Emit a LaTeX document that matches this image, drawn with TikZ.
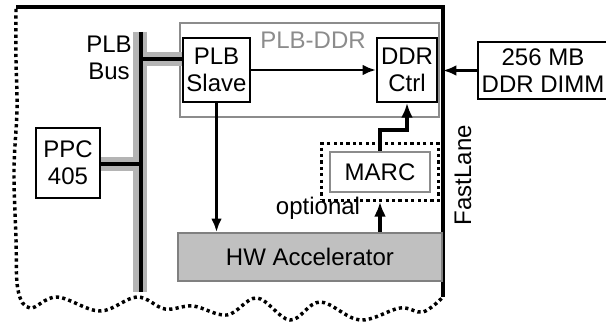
\documentclass[tikz,border=0pt]{standalone}
\usepackage{fontspec}
\setmainfont{Liberation Sans}
\usetikzlibrary{arrows.meta,positioning,fit}
\definecolor{flGrey}{HTML}{8C8C8C}
\definecolor{flBus}{HTML}{B4B4B4}
\definecolor{flAcc}{HTML}{C0C0C0}
\definecolor{flAccLine}{HTML}{808080}

\begin{document}
\begin{tikzpicture}[x=0.75pt,y=-0.75pt,font=\fontsize{18}{20}\selectfont,
    blk/.style={draw,line width=1.6pt,fill=white,align=center,inner sep=0pt},
    arr/.style={-{Latex[length=10pt,width=8pt]},line width=1.9pt},
    fatarr/.style={-{Latex[length=11pt,width=9pt]},line width=3.2pt},
    busgrey/.style={flBus,line width=10.5pt},
    busline/.style={black,line width=2.8pt},
    edge/.style={line width=2.6pt,dash pattern=on 2.4pt off 2.4pt}]

  \useasboundingbox (0,0) rectangle (606,324);

  % FastLane frame, cut open on the left and at the bottom
  \coordinate (laneNW) at (16,7);
  \coordinate (laneN) at (443,7);
  \coordinate (laneS) at (443,297);
  \draw[line width=2.6pt] (laneNW) -- (laneN) -- (laneS);
  \draw[edge] plot[smooth,tension=0.6] coordinates {(16,9) (16,60) (17,110)
    (14,170) (16,240) (18,290) (30,308) (57,297) (100,311) (137,297) (165,309)
    (193,306) (227,315) (257,298) (290,320) (320,302) (360,320) (400,308)
    (423,312) (443,297)};
  \node[rotate=90] (lane) at (463,175) {FastLane};

  % PLB-DDR bridge
  \node[draw=flGrey,line width=1.6pt,minimum width=194.25pt,minimum height=70.5pt]
    (plbddr) at (309.5,70) {};
  \node[text=flGrey] (plbddrlbl) at (313,40) {PLB-DDR};
  \node[blk,minimum width=50.25pt,minimum height=48pt] (slave) at (216.5,70) {PLB\\Slave};
  \node[blk,minimum width=45pt,minimum height=48pt] (ctrl) at (407,70) {DDR\\Ctrl};
  \node[blk,minimum width=97.5pt,minimum height=42.75pt] (dimm) at (543,70.5) {256 MB\\DDR DIMM};

  \node[blk,minimum width=48pt,minimum height=52.5pt] (ppc) at (68,163) {PPC\\405};
  \node[align=center] (buslbl) at (109,58) {PLB\\Bus};

  \node[blk,draw=flGrey,minimum width=75pt,minimum height=30pt] (marc) at (380,172) {MARC};
  \node[draw,fit=(marc),inner sep=5.5pt,line width=2.4pt,
        dash pattern=on 2.4pt off 2.4pt] (opt) {};
  \node (optlbl) at (318,208) {optional};
  \node[draw=flAccLine,fill=flAcc,line width=1.6pt,minimum width=198pt,
        minimum height=36pt] (hw) at (310,257) {HW Accelerator};

  % PLB bus
  \coordinate (busT) at (140,32);
  \coordinate (busB) at (140,292);
  \coordinate (busS) at (140,59);
  \coordinate (busP) at (140,164);
  \draw[busgrey] (busT) -- (busB);
  \draw[busgrey] (busS) -- (busS -| slave.west);
  \draw[busgrey] (busP) -- (busP -| ppc.east);
  \draw[busline] ([xshift=1pt]busT) -- ([xshift=1pt]busB);
  \draw[busline] (busS) -- (busS -| slave.west);
  \draw[busline] (busP) -- (busP -| ppc.east);

  % connections
  \draw[arr] (slave) -- (ctrl);
  \draw[arr] (dimm.west) -- (laneN |- dimm.west);
  \draw[arr] (slave.south) -- (slave.south |- hw.north);
  \draw[fatarr] (marc.north) -- ++(0,-21) -| (ctrl.south);
  \draw[fatarr] (marc |- hw.north) -- (opt.south);
\end{tikzpicture}
\end{document}
